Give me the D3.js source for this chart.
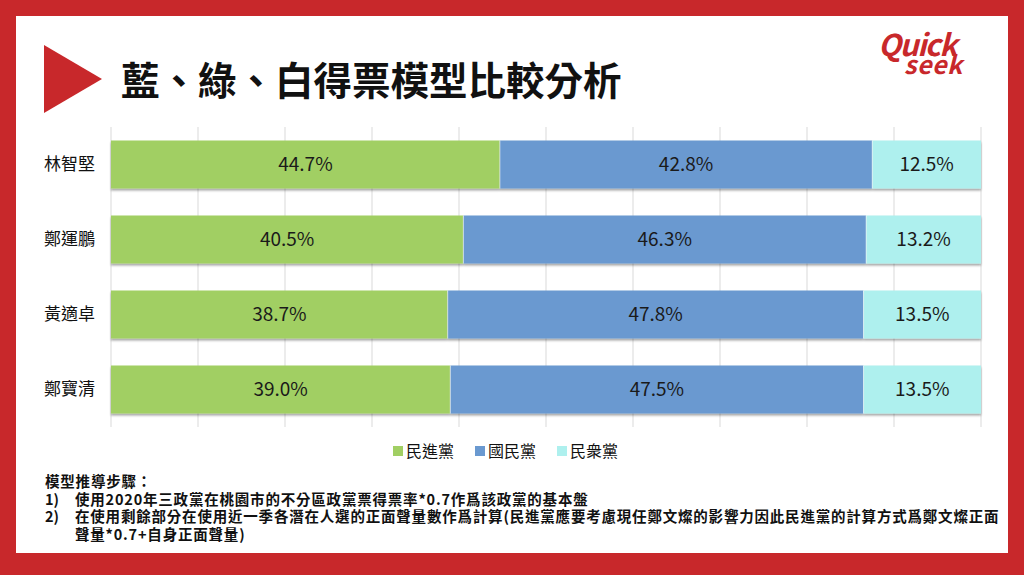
<!DOCTYPE html>
<html>
<head>
<meta charset="utf-8">
<script src="https://cdn.jsdelivr.net/npm/d3@7"></script>
<style>
  html, body { margin: 0; padding: 0; background: #fff; }
  body { width: 1024px; height: 575px; overflow: hidden; }
  text { font-family: "Noto Sans CJK TC", "Noto Sans", sans-serif; }
</style>
</head>
<body>
<div id="chart"></div>
<script>
    // data
    const candidates = ["林智堅", "鄭運鵬", "黃適卓", "鄭寶清"];
    const parties = ["民進黨", "國民黨", "民衆黨"];
    const dpp = [44.7, 40.5, 38.7, 39.0];
    const kmt = [42.8, 46.3, 47.8, 47.5];
    const tpp = [12.5, 13.2, 13.5, 13.5];
    const gridTicks = [0, 10, 20, 30, 40, 50, 60, 70, 80, 90, 100];
    const notes = [
        ["", "模型推導步驟："],
        ["1)", "使用2020年三政黨在桃園市的不分區政黨票得票率*0.7作爲該政黨的基本盤"],
        ["2)", "在使用剩餘部分在使用近一季各潛在人選的正面聲量數作爲計算(民進黨應要考慮現任鄭文燦的影響力因此民進黨的計算方式爲鄭文燦正面"],
        ["", "聲量*0.7+自身正面聲量)"]
    ];

    const colors = ["#a1cf63", "#6a99d0", "#aef0ee"];
    const W = 1024, H = 575;

    const svg = d3.select("#chart").append("svg")
        .attr("width", W)
        .attr("height", H);

    // red frame
    svg.append("rect").attr("width", W).attr("height", H).attr("fill", "#c8282b");
    svg.append("rect").attr("x", 16).attr("y", 16).attr("width", 992).attr("height", 537).attr("fill", "#fff");

    // title marker + title
    svg.append("path")
        .attr("d", "M44,45 L102,79 L44,113 Z")
        .attr("fill", "#c8282b");
    svg.append("text")
        .attr("x", 121)
        .attr("y", 95)
        .attr("font-size", 38.5)
        .attr("font-weight", "bold")
        .attr("fill", "#111")
        .text("藍、綠、白得票模型比較分析");

    // logo
    const logo = svg.append("g").attr("transform", "translate(878,28)");
    logo.append("text")
        .attr("x", 0).attr("y", 28)
        .attr("font-family", "DejaVu Sans")
        .attr("font-size", 30).attr("font-weight", "bold").attr("font-style", "italic")
        .attr("fill", "#c8282b")
        .attr("letter-spacing", -1.5)
        .text("Quick");
    logo.append("text")
        .attr("x", 26).attr("y", 46)
        .attr("font-family", "DejaVu Sans")
        .attr("font-size", 25).attr("font-weight", "bold").attr("font-style", "italic")
        .attr("fill", "#c8282b")
        .attr("letter-spacing", 0.5)
        .text("seek");

    // chart area
    const margin = { top: 127, left: 111, right: 43, bottom: 148 };
    const width = W - margin.left - margin.right;
    const height = H - margin.top - margin.bottom;
    const g = svg.append("g").attr("transform", `translate(${margin.left},${margin.top})`);

    const x = d3.scaleLinear().domain([0, 100]).range([0, width]);
    const y = d3.scaleBand().domain(candidates).range([0, height]).paddingInner(0.36).paddingOuter(0.18);

    // gridlines
    g.selectAll(".grid")
        .data(gridTicks)
        .enter()
        .append("line")
            .attr("class", "grid")
            .attr("x1", d => x(d))
            .attr("x2", d => x(d))
            .attr("y1", 0)
            .attr("y2", height)
            .attr("stroke", "#d9d9d9")
            .attr("stroke-width", 1);

    // shadow filter
    const defs = svg.append("defs");
    const f = defs.append("filter").attr("id", "shadow").attr("x", "-5%").attr("y", "-10%").attr("width", "110%").attr("height", "130%");
    f.append("feDropShadow").attr("dx", 0).attr("dy", 2).attr("stdDeviation", 1).attr("flood-color", "#000").attr("flood-opacity", 0.35);

    const stack = candidates.map((c, i) => {
        const vals = [dpp[i], kmt[i], tpp[i]];
        let acc = 0;
        return vals.map((v, k) => {
            const s = { cand: c, k: k, v: v, x0: acc, x1: acc + v };
            acc += v;
            return s;
        });
    }).flat();

    const rows = g.selectAll(".row")
        .data(candidates)
        .enter()
        .append("g")
            .attr("class", "row")
            .attr("filter", "url(#shadow)");

    rows.selectAll("rect")
        .data(c => stack.filter(s => s.cand === c))
        .enter()
        .append("rect")
            .attr("x", d => x(d.x0))
            .attr("y", d => y(d.cand))
            .attr("width", d => x(d.x1) - x(d.x0))
            .attr("height", y.bandwidth())
            .attr("fill", d => colors[d.k]);

    // separator between segments
    g.selectAll(".sep")
        .data(stack.filter(s => s.k > 0))
        .enter()
        .append("line")
            .attr("x1", d => x(d.x0))
            .attr("x2", d => x(d.x0))
            .attr("y1", d => y(d.cand))
            .attr("y2", d => y(d.cand) + y.bandwidth())
            .attr("stroke", "#fff")
            .attr("stroke-opacity", 0.6)
            .attr("stroke-width", 1);

    // value labels
    g.selectAll(".val")
        .data(stack)
        .enter()
        .append("text")
            .attr("class", "val")
            .attr("x", d => x((d.x0 + d.x1) / 2))
            .attr("y", d => y(d.cand) + y.bandwidth() / 2 + 6.5)
            .attr("text-anchor", "middle")
            .attr("font-family", "'Open Sans', 'Noto Sans', sans-serif")
            .attr("font-size", 19)
            .attr("fill", "#1a1a1a")
            .text(d => `${d.v.toFixed(1)}%`);

    // category axis
    g.append("g")
        .call(d3.axisLeft(y).tickSize(0).tickPadding(16))
        .call(a => a.select(".domain").remove())
        .call(a => a.selectAll("text")
            .attr("font-family", "'Noto Sans CJK TC', sans-serif")
            .attr("font-size", 17)
            .attr("fill", "#111"));

    // legend
    const legendX = [393, 475, 557];
    const legend = svg.append("g").attr("transform", "translate(0,451)");
    parties.forEach((p, i) => {
        legend.append("rect")
            .attr("x", legendX[i]).attr("y", -5)
            .attr("width", 10).attr("height", 10)
            .attr("fill", colors[i]);
        legend.append("text")
            .attr("x", legendX[i] + 13).attr("y", 6)
            .attr("font-size", 16)
            .attr("fill", "#111")
            .text(p);
    });

    // notes
    const nt = svg.append("g").attr("transform", "translate(45,487)");
    notes.forEach((n, i) => {
        if (n[0]) {
            nt.append("text")
                .attr("x", 0).attr("y", i * 17.5)
                .attr("font-size", 14.5).attr("font-weight", "bold").attr("fill", "#111")
                .text(n[0]);
        }
        nt.append("text")
            .attr("x", i === 0 ? 0 : 30).attr("y", i * 17.5)
            .attr("font-size", 14.5).attr("font-weight", "bold").attr("fill", "#111")
            .attr("letter-spacing", 0.8)
            .text(n[1]);
    });
</script>
</body>
</html>
